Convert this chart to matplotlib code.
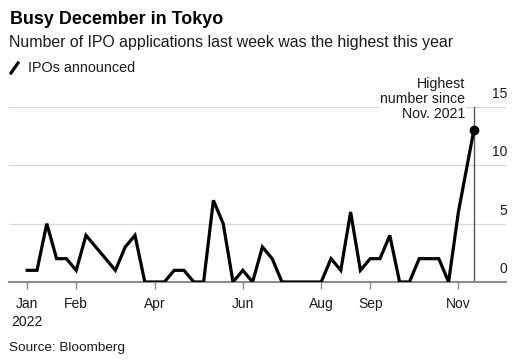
import matplotlib
matplotlib.use("Agg")
import matplotlib.pyplot as plt
import matplotlib.transforms as mtransforms
from matplotlib.lines import Line2D
import pandas as pd

plt.rcParams['font.family'] = ['Liberation Sans', 'DejaVu Sans']

# Weekly IPO announcements (weeks starting Mondays), plus latest point
week_dates = pd.date_range("2022-01-03", periods=45, freq="7D")
ipos = [1, 1, 5, 2, 2, 1, 4, 3, 2, 1, 3, 4, 0, 0, 0, 1, 1, 0, 0, 7,
        5, 0, 1, 0, 3, 2, 0, 0, 0, 0, 0, 2, 1, 6, 1, 2, 2, 4, 0, 0,
        2, 2, 2, 0, 6]
last_date = pd.Timestamp("2022-11-18")
last_value = 13
dates = list(week_dates) + [last_date]
values = ipos + [last_value]

tick_dates = pd.to_datetime(["2022-01-03", "2022-02-07", "2022-04-04", "2022-06-06",
                             "2022-08-01", "2022-09-05", "2022-11-07"])
tick_labels = ["Jan\n2022", "Feb", "Apr", "Jun", "Aug", "Sep", "Nov"]
y_ticks = [0, 5, 10, 15]

W, H = 520, 363
fig = plt.figure(figsize=(W / 100, H / 100), dpi=100)
ax = fig.add_axes([9 / W, (H - 282) / H, (506 - 9) / W, (282 - 107) / H])

ax.plot(dates, values, color="black", lw=2.3, solid_joinstyle="miter", zorder=3)
ax.plot([last_date], [last_value], "o", color="black", ms=6, zorder=4)

ax.set_xlim(pd.Timestamp("2021-12-21"), pd.Timestamp("2022-12-11"))
ax.set_ylim(0, 15)

for y in y_ticks[1:]:
    ax.axhline(y, color="#d9d9d9", lw=1, zorder=1)
for s in ["top", "right", "left"]:
    ax.spines[s].set_visible(False)
ax.spines["bottom"].set_color("#8c8c8c")
ax.spines["bottom"].set_linewidth(1.5)

ax.set_yticks([])
ax.set_xticks(tick_dates)
ax.set_xticklabels(tick_labels, fontsize=10, color="#1a1a1a", linespacing=1.35)
ax.tick_params(axis="x", length=5, width=1, color="#8c8c8c", pad=6)

trans = mtransforms.offset_copy(ax.get_yaxis_transform(), fig=fig, x=1, y=13, units="dots")
for y in y_ticks:
    ax.text(1.0, y, str(y), transform=trans, ha="right", va="center",
            fontsize=10, color="#1a1a1a")

# annotation vertical line
ax.plot([last_date, last_date], [0, 15], color="#555555", lw=1, zorder=2)
fig.text(465 / W, 1 - 99 / H, "Highest\nnumber since\nNov. 2021",
         ha="right", va="center", fontsize=10.2, color="#1a1a1a", linespacing=1.08,
         bbox=dict(facecolor="white", edgecolor="none", pad=0.5), zorder=5)

# titles
fig.text(10 / W, 1 - 19.5 / H, "Busy December in Tokyo", fontsize=12.9,
         fontweight="bold", ha="left", va="center", color="black")
fig.text(9 / W, 1 - 42.5 / H,
         "Number of IPO applications last week was the highest this year",
         fontsize=11.4, ha="left", va="center", color="#1a1a1a")
fig.add_artist(Line2D([11 / W, 18 / W], [1 - 73 / H, 1 - 63 / H],
                      color="black", lw=2.3, transform=fig.transFigure))
fig.text(28 / W, 1 - 67.5 / H, "IPOs announced", fontsize=10.4, ha="left",
         va="center", color="#1a1a1a")
fig.text(9 / W, 1 - 348 / H, "Source: Bloomberg", fontsize=9.7, ha="left",
         va="center", color="#1a1a1a")

fig.savefig("out.png", dpi=100)
